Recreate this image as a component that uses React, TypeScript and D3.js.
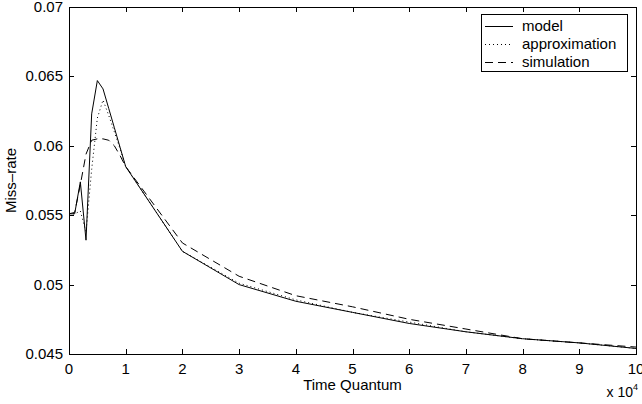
import React, { useEffect, useRef } from 'react';
import * as d3 from 'd3';

// time quantum (raw), x axis shows it in units of 1e4
const quanta = [0, 1000, 2000, 3000, 4000, 5000, 6000, 7000, 8000, 9000, 10000, 20000, 30000, 40000, 50000, 60000, 70000, 80000, 90000, 100000];
const model = [0.0551, 0.0551, 0.0574, 0.0532, 0.0623, 0.0647, 0.0641, 0.0627, 0.0613, 0.0599, 0.0585, 0.0524, 0.05, 0.0488, 0.048, 0.0472, 0.0466, 0.0461, 0.0458, 0.0454];
const approximation = [0.0551, 0.0551, 0.0553, 0.0538, 0.0583, 0.062, 0.0633, 0.0622, 0.061, 0.0598, 0.0585, 0.0524, 0.0501, 0.0489, 0.048, 0.0473, 0.0466, 0.0461, 0.0458, 0.0454];
const simulation = [0.0551, 0.0552, 0.0572, 0.0594, 0.0604, 0.0605, 0.0605, 0.0604, 0.06, 0.0593, 0.0585, 0.053, 0.0506, 0.0492, 0.0484, 0.0475, 0.0468, 0.0461, 0.0458, 0.0455];
const xTicks = [0, 10000, 20000, 30000, 40000, 50000, 60000, 70000, 80000, 90000, 100000];
const yTicks = [0.045, 0.05, 0.055, 0.06, 0.065, 0.07];

const series = [
  { name: 'model', values: model, dash: null },
  { name: 'approximation', values: approximation, dash: '1,3' },
  { name: 'simulation', values: simulation, dash: '8,5' },
];

const W = 642, H = 404;
const m = { left: 69, right: 6, top: 7, bottom: 50 };
const FONT = '"Liberation Sans", Arial, Helvetica, sans-serif';

export default function App() {
  const ref = useRef<SVGSVGElement>(null);

  useEffect(() => {
    const svg = d3.select(ref.current);
    svg.selectAll('*').remove();
    const x0 = m.left, x1 = W - m.right, y0 = H - m.bottom, y1 = m.top;
    const x = d3.scaleLinear().domain([0, 100000]).range([x0, x1]);
    const y = d3.scaleLinear().domain([0.045, 0.07]).range([y0, y1]);
    const tl = 5;

    const g = svg.append('g').attr('font-family', FONT).attr('font-size', 15);

    // frame
    g.append('rect').attr('x', x0).attr('y', y1).attr('width', x1 - x0).attr('height', y0 - y1)
      .attr('fill', 'none').attr('stroke', '#000').attr('stroke-width', 1).attr('shape-rendering', 'crispEdges');

    // x ticks (bottom and top, inward)
    xTicks.forEach(t => {
      const px = Math.round(x(t)) + 0.5;
      g.append('line').attr('x1', px).attr('x2', px).attr('y1', y0).attr('y2', y0 - tl).attr('stroke', '#000');
      g.append('line').attr('x1', px).attr('x2', px).attr('y1', y1).attr('y2', y1 + tl).attr('stroke', '#000');
      g.append('text').attr('x', x(t)).attr('y', y0 + 20).attr('text-anchor', 'middle').text(String(t / 10000));
    });
    yTicks.forEach(t => {
      const py = Math.round(y(t)) + 0.5;
      g.append('line').attr('x1', x0).attr('x2', x0 + tl).attr('y1', py).attr('y2', py).attr('stroke', '#000');
      g.append('line').attr('x1', x1).attr('x2', x1 - tl).attr('y1', py).attr('y2', py).attr('stroke', '#000');
      g.append('text').attr('x', x0 - 6).attr('y', y(t) + 5).attr('text-anchor', 'end').text(String(t));
    });

    g.append('text').attr('x', (x0 + x1) / 2).attr('y', y0 + 36).attr('text-anchor', 'middle').text('Time Quantum');
    const ex = g.append('text').attr('x', 638).attr('y', 397).attr('text-anchor', 'end').attr('font-size', 14);
    ex.append('tspan').text('x 10');
    ex.append('tspan').attr('dy', -7).attr('font-size', 9).text('4');
    g.append('text').attr('transform', `translate(16,${(y0 + y1) / 2}) rotate(-90)`).attr('text-anchor', 'middle').text('Miss\u2013rate');

    const line = d3.line<number>().x((_, i) => x(quanta[i])).y(d => y(d));
    series.forEach(s => {
      g.append('path').attr('d', line(s.values)).attr('fill', 'none').attr('stroke', '#000')
        .attr('stroke-width', 1).attr('stroke-dasharray', s.dash);
    });

    // legend
    const lg = g.append('g');
    lg.append('rect').attr('x', 481.5).attr('y', 14.5).attr('width', 146).attr('height', 57)
      .attr('fill', '#fff').attr('stroke', '#000');
    series.forEach((s, i) => {
      const ly = 26 + i * 18;
      lg.append('line').attr('x1', 485).attr('x2', 513).attr('y1', ly + 0.5).attr('y2', ly + 0.5)
        .attr('stroke', '#000').attr('stroke-dasharray', s.dash);
      lg.append('text').attr('x', 522).attr('y', ly + 5).text(s.name);
    });
  }, []);

  return <svg ref={ref} width={W} height={H} style={{ position: 'absolute', left: 0, top: 0, background: '#fff' }} />;
}
